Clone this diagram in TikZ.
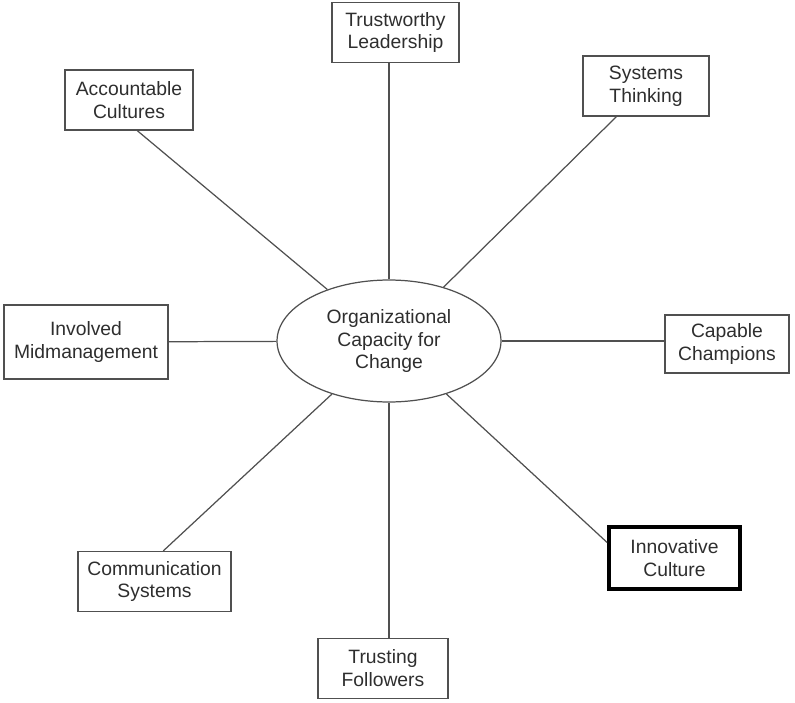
\documentclass[tikz,border=0pt]{standalone}
\usepackage{fontspec}
\setmainfont{Liberation Sans}
\usetikzlibrary{shapes.geometric}
\definecolor{ink}{HTML}{2E2E2E}
\definecolor{edge}{HTML}{505050}
\begin{document}
\begin{tikzpicture}[x=0.02cm,y=-0.02cm,
        box/.style={draw=edge,line width=0.7pt,minimum height=1.2cm,inner sep=0pt,align=center,text=ink,font=\fontsize{11}{13}\selectfont},
        hub/.style={ellipse,draw=edge,line width=0.7pt,minimum width=4.48cm,minimum height=2.44cm,inner sep=0pt,align=center,text=ink,font=\fontsize{11}{13}\selectfont},
        link/.style={draw=edge,line width=0.7pt}]
        \useasboundingbox (0,0) rectangle (795,703);
        % centre
        \node[hub] (org) at (389,341) {Organizational\\Capacity for\\Change};
        % boxes round it
        \node[box,minimum width=2.54cm] (lead) at (395.5,32.5) {Trustworthy\\Leadership};
        \node[box,minimum width=2.52cm] (sys) at (646,86) {Systems\\Thinking};
        \node[box,minimum width=2.56cm] (acc) at (129,100) {Accountable\\Cultures};
        \node[box,minimum width=3.28cm,minimum height=1.48cm,line width=1.1pt] (inv) at (86,342) {Involved\\Midmanagement};
        \node[box,minimum width=2.48cm,minimum height=1.16cm] (cap) at (727,344) {Capable\\Champions};
        \node[box,minimum width=2.62cm,minimum height=1.24cm,line width=2.2pt,draw=black] (inn) at (674.5,558) {Innovative\\Culture};
        \node[box,minimum width=3.06cm] (com) at (154.5,581.5) {Communication\\Systems};
        \node[box,minimum width=2.6cm] (fol) at (383,668.5) {Trusting\\Followers};
        % spokes
        \draw[link] (lead.south -| org) -- (org);
        \draw[link] (sys.226) -- (org);
        \draw[link] (acc.-75) -- (org);
        \draw[link] (inv) -- (org);
        \draw[link] (org) -- (cap.west |- org);
        \draw[link] (inn.167) -- (org);
        \draw[link] (com.74) -- (org);
        \draw[link] (fol.north -| org) -- (org);
\end{tikzpicture}
\end{document}
